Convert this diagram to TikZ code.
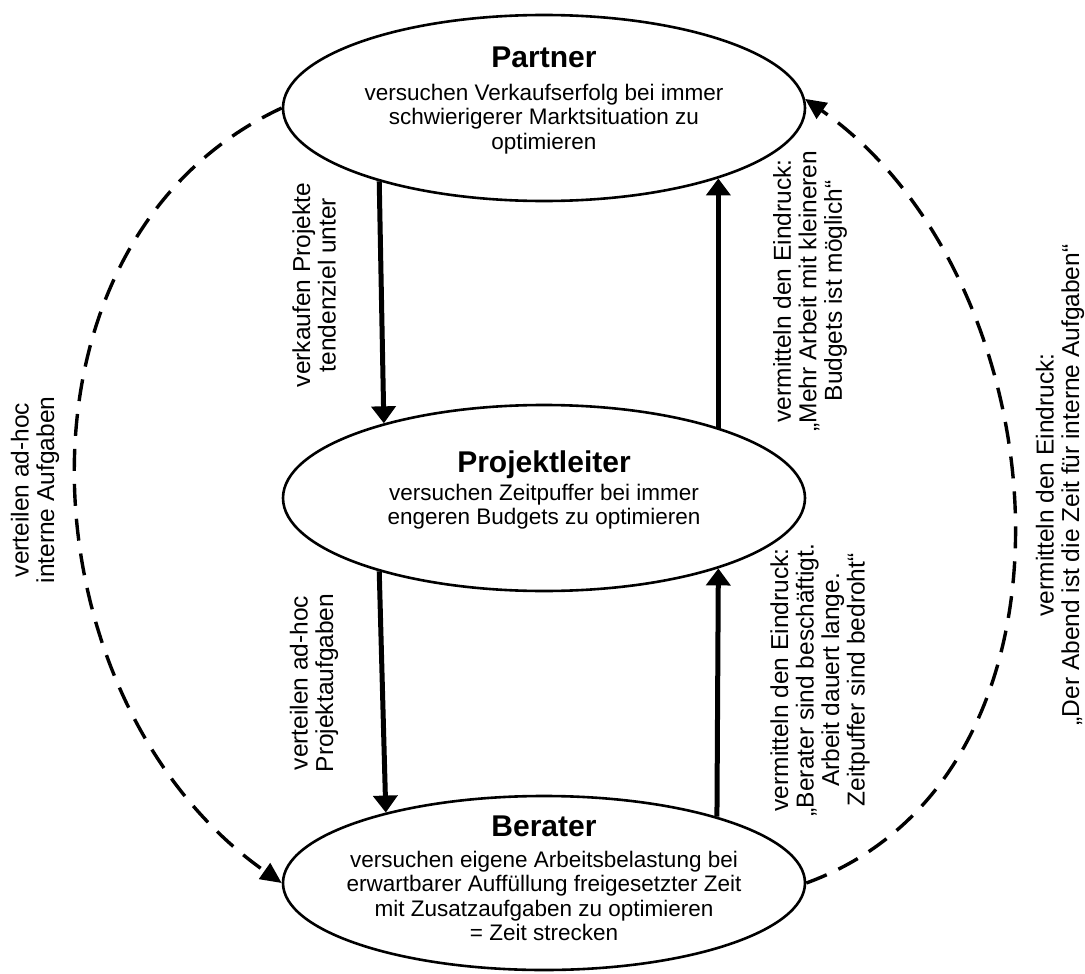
\documentclass[tikz,border=0pt]{standalone}
\usepackage{fontspec}
\setmainfont{Liberation Sans}
\usetikzlibrary{arrows.meta,shapes.geometric}
\begin{document}
\begin{tikzpicture}[x=1pt,y=1pt,
  ell/.style={ellipse, draw, line width=2.6pt, minimum width=522pt, inner sep=0pt},
  ttl/.style={font=\fontsize{30}{32}\selectfont\bfseries, inner sep=0pt, anchor=base},
  bod/.style={font=\fontsize{22.5}{24.5}\selectfont, align=center, inner sep=0pt, anchor=north},
  lbl/.style={font=\fontsize{24.5}{25.5}\selectfont, align=center, inner sep=0pt, rotate=90},
  solidarrow/.style={line width=5pt, -{Triangle[width=24pt,length=17pt]}},
  dasharrow/.style={line width=3.4pt, dash pattern=on 22pt off 13pt, -{Triangle[width=19pt,length=21pt]}}
]
\useasboundingbox (0,0) rectangle (1085,-974);
\fill[white] (0,0) rectangle (1085,-974);

\node[ell, minimum height=186pt] (P) at (544,-108) {};
\node[ell, minimum height=186pt] (PL) at (544,-498) {};
\node[ell, minimum height=174pt] (B) at (544,-883) {};

\node[ttl] (Pt) at (544,-68) {Partner};
\node[bod] (Pb) at (544,-83.6) {versuchen Verkaufserfolg bei immer\\schwierigerer Marktsituation zu\\optimieren};
\node[ttl] (PLt) at (544,-472) {Projektleiter};
\node[bod] (PLb) at (544,-483.6) {versuchen Zeitpuffer bei immer\\engeren Budgets zu optimieren};
\node[ttl] (Bt) at (544,-836) {Berater};
\node[bod] (Bb) at (544,-850.6) {versuchen eigene Arbeitsbelastung bei\\erwartbarer Auffüllung freigesetzter Zeit\\mit Zusatzaufgaben zu optimieren\\= Zeit strecken};

\node[lbl] (L1) at (314,-285) {verkaufen Projekte\\tendenziel unter};
\node[lbl] (L2) at (314,-683) {verteilen ad-hoc\\Projektaufgaben};
\node[lbl] (L3) at (35,-490) {verteilen ad-hoc\\interne Aufgaben};
\node[lbl] (R1) at (810,-291) {vermitteln den Eindruck:\\„Mehr Arbeit mit kleineren\\Budgets ist möglich“};
\node[lbl] (R2) at (820,-680) {vermitteln den Eindruck:\\„Berater sind beschäftigt.\\Arbeit dauert lange.\\Zeitpuffer sind bedroht“};
\node[lbl] (R3) at (1060,-485) {vermitteln den Eindruck:\\„Der Abend ist die Zeit für interne Aufgaben“};

\draw[solidarrow] (P.204.89) -- (PL.155.11);
\draw[solidarrow] (PL.22.76) -- (P.-22.76);
\draw[solidarrow] (PL.204.89) -- (B.156.54);
\draw[solidarrow] (B.21.42) -- (PL.-22.76);

\draw[dasharrow] (P.west) to[out=205,in=145,looseness=1.05] (B.west);
\draw[dasharrow] (B.east) to[out=20,in=-35,looseness=1.03] (P.2);
\end{tikzpicture}
\end{document}
